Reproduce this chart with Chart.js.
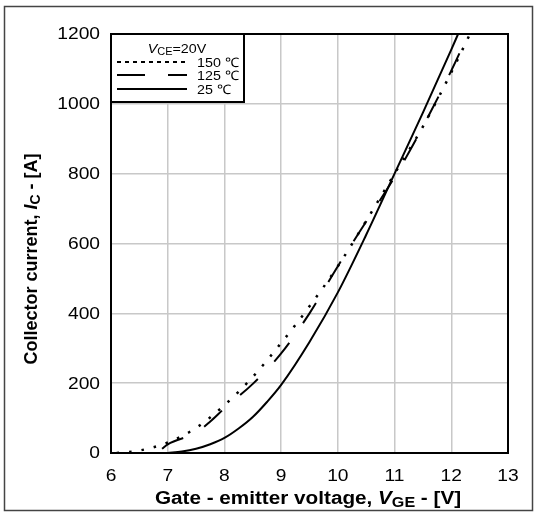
<!DOCTYPE html>
<html>
<head>
<meta charset="utf-8">
<script src="https://cdn.jsdelivr.net/npm/chart.js@4"></script>
<style>
  body { margin: 0; background: #fff; }
  #wrap { width: 536px; height: 513px; }
</style>
</head>
<body>
<div id="wrap"><canvas id="myChart" width="536" height="513"></canvas></div>
<script>
// transfer characteristic, Vce = 20V
const xTicks = [6, 7, 8, 9, 10, 11, 12, 13];
const yTicks = [0, 200, 400, 600, 800, 1000, 1200];

const vge150 = [6.1, 6.5, 7.0, 7.5, 8.0, 8.5, 9.0, 9.5, 10.0, 10.5, 11.0, 11.5, 12.0, 12.33];
const ic150 = [0, 7, 30, 72, 137, 218, 315, 420, 535, 665, 800, 935, 1090, 1200];

const vge125 = [6.9, 7.0, 7.5, 7.75, 8.0, 8.5, 9.0, 9.5, 10.0, 10.5, 11.0, 11.5, 12.0, 12.3];
const ic125 = [12, 25, 58, 90, 128, 198, 285, 400, 535, 663, 790, 935, 1095, 1200];

const vge25 = [7.0, 7.25, 7.5, 7.75, 8.0, 8.25, 8.5, 8.75, 9.0, 9.5, 10.0, 10.5, 11.0, 11.5, 12.0, 12.12];
const ic25 = [0, 4, 12, 25, 43, 70, 103, 146, 195, 318, 460, 625, 800, 975, 1155, 1200];

const legendLabels = ["150 \u2103", "125 \u2103", "25 \u2103"];

const toPoints = (xs, ys) => xs.map((x, i) => ({ x: x, y: ys[i] }));

const FONT = "'Liberation Sans', Arial, sans-serif";
const STRETCH = 1.15; // the original figure is a bit wider than tall

// draw text made of pieces (italic / subscript), centred on cx
const drawRich = (ctx, parts, cx, cy, sx = 1) => {
    let total = 0;
    parts.forEach((p) => {
        ctx.font = p.font;
        total += ctx.measureText(p.text).width;
    });
    ctx.save();
    ctx.translate(cx, cy);
    ctx.scale(sx, 1);
    let x = -total / 2;
    ctx.textAlign = "left";
    ctx.textBaseline = "alphabetic";
    parts.forEach((p) => {
        ctx.font = p.font;
        ctx.fillText(p.text, x, p.dy || 0);
        x += ctx.measureText(p.text).width;
    });
    ctx.restore();
};

const drawTick = (ctx, text, x, y, align) => {
    ctx.save();
    ctx.translate(x, y);
    ctx.scale(1.2, 1);
    ctx.textAlign = align;
    ctx.textBaseline = "middle";
    ctx.font = "16px " + FONT;
    ctx.fillText(text, 0, 0);
    ctx.restore();
};

const framePlugin = {
    id: "frame",
    afterDraw(chart) {
        const ctx = chart.ctx;
        const a = chart.chartArea;
        const xs = chart.scales.x;
        const ys = chart.scales.y;
        ctx.save();
        ctx.fillStyle = "#000";

        // plot border
        ctx.strokeStyle = "#000";
        ctx.lineWidth = 2;
        ctx.strokeRect(a.left, a.top, a.right - a.left, a.bottom - a.top);

        // outer frame
        ctx.strokeStyle = "#444";
        ctx.lineWidth = 1.5;
        ctx.strokeRect(4.5, 6.5, 528, 504);

        // tick labels
        xTicks.forEach((v) => drawTick(ctx, String(v), xs.getPixelForValue(v), a.bottom + 24, "center"));
        yTicks.forEach((v) => drawTick(ctx, String(v), a.left - 11, ys.getPixelForValue(v) + 1, "right"));

        // x title
        drawRich(ctx, [
            { text: "Gate - emitter voltage, ", font: "bold 18px " + FONT },
            { text: "V", font: "italic bold 18px " + FONT },
            { text: "GE", font: "bold 14px " + FONT, dy: 3 },
            { text: " - [V]", font: "bold 18px " + FONT },
        ], 308, 504, STRETCH);

        // y title
        ctx.save();
        ctx.translate(37, 259);
        ctx.rotate(-Math.PI / 2);
        drawRich(ctx, [
            { text: "Collector current, ", font: "bold 18px " + FONT },
            { text: "I", font: "italic bold 18px " + FONT },
            { text: "C", font: "bold 14px " + FONT, dy: 3 },
            { text: " - [A]", font: "bold 18px " + FONT },
        ], 0, 0);
        ctx.restore();

        // legend box
        ctx.fillStyle = "#fff";
        ctx.fillRect(a.left, a.top, 133, 68);
        ctx.strokeStyle = "#000";
        ctx.lineWidth = 2;
        ctx.strokeRect(a.left, a.top, 133, 68);
        ctx.fillStyle = "#000";
        drawRich(ctx, [
            { text: "V", font: "italic 13px " + FONT },
            { text: "CE", font: "10px " + FONT, dy: 2 },
            { text: "=20V", font: "13px " + FONT },
        ], 177, 53, 1.1);

        const dashes = [[4, 4], [28, 23], []];
        const rowsY = [62, 75, 89];
        rowsY.forEach((y, i) => {
            ctx.beginPath();
            ctx.setLineDash(dashes[i]);
            ctx.lineWidth = 2;
            ctx.moveTo(117, y);
            ctx.lineTo(187, y);
            ctx.stroke();
            ctx.setLineDash([]);
            ctx.save();
            ctx.translate(197, y + 1);
            ctx.scale(1.1, 1);
            ctx.font = "13px " + FONT;
            ctx.textAlign = "left";
            ctx.textBaseline = "middle";
            ctx.fillText(legendLabels[i], 0, 0);
            ctx.restore();
        });
        ctx.restore();
    },
};

const ctx = document.getElementById("myChart").getContext("2d");

const myChart = new Chart(ctx, {
    type: "scatter",
    data: {
        datasets: [
            {
                label: legendLabels[0],
                data: toPoints(vge150, ic150),
                showLine: true,
                borderColor: "#000",
                borderWidth: 2.5,
                borderDash: [2.5, 10],
                pointRadius: 0,
                cubicInterpolationMode: "monotone",
            },
            {
                label: legendLabels[1],
                data: toPoints(vge125, ic125),
                showLine: true,
                borderColor: "#000",
                borderWidth: 2,
                borderDash: [24, 24],
                pointRadius: 0,
                cubicInterpolationMode: "monotone",
            },
            {
                label: legendLabels[2],
                data: toPoints(vge25, ic25),
                showLine: true,
                borderColor: "#000",
                borderWidth: 2,
                pointRadius: 0,
                cubicInterpolationMode: "monotone",
            },
        ],
    },
    options: {
        responsive: false,
        animation: false,
        layout: { padding: { left: 0, right: 28, top: 34, bottom: 0 } },
        plugins: {
            legend: { display: false },
            tooltip: { enabled: false },
        },
        scales: {
            x: {
                type: "linear",
                min: 6,
                max: 13,
                afterBuildTicks: (scale) => {
                    scale.ticks = xTicks.map((v) => ({ value: v }));
                },
                afterFit: (scale) => {
                    scale.height = 60;
                },
                ticks: { display: false },
                grid: { color: "#c8c8c8", lineWidth: 1.5, drawTicks: false },
                border: { color: "#000", width: 2 },
            },
            y: {
                min: 0,
                max: 1200,
                afterBuildTicks: (scale) => {
                    scale.ticks = yTicks.map((v) => ({ value: v }));
                },
                afterFit: (scale) => {
                    scale.width = 111;
                },
                ticks: { display: false },
                grid: { color: "#c8c8c8", lineWidth: 1.5, drawTicks: false },
                border: { color: "#000", width: 2 },
            },
        },
    },
    plugins: [framePlugin],
});
</script>
</body>
</html>
